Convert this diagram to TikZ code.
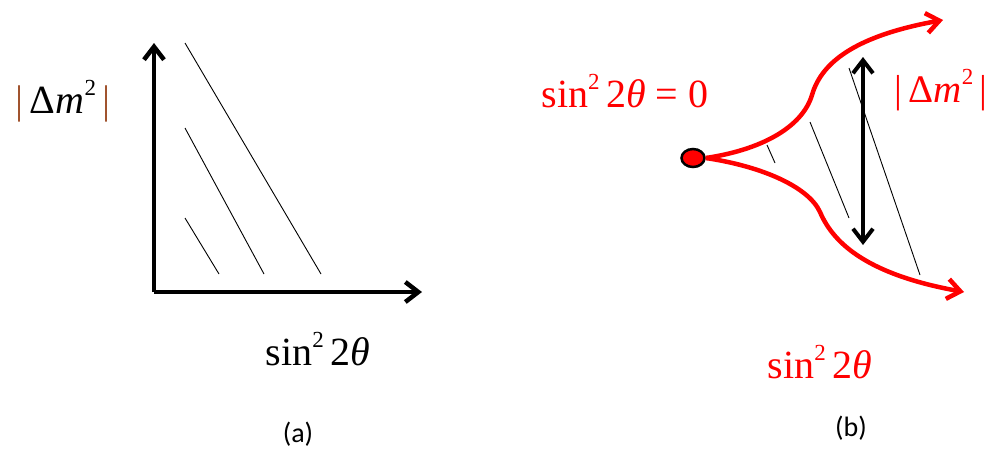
\documentclass[tikz,border=0pt]{standalone}
\usepackage{fontspec}
\setmainfont{Liberation Serif}
\newfontfamily\capfont{Carlito}
\definecolor{PlotRed}{HTML}{FF0000}
\definecolor{BarBrown}{HTML}{A0522D}
\usetikzlibrary{arrows.meta,shapes.geometric}
\newcommand{\sqr}{\raisebox{0.45em}{\fontsize{23}{23}\selectfont 2}}
\newcommand{\sinsq}{sin\sqr\,2\textit{θ}}
\newcommand{\dmsq}[1]{\textcolor{#1}{|}\,Δ\textit{m}\sqr\,\textcolor{#1}{|}}

\begin{document}
\begin{tikzpicture}[x=1pt,y=-1pt,
  every node/.style={font=\fontsize{40}{44}\selectfont,inner sep=0pt},
  axis/.style={line width=4.5pt,-{Straight Barb[length=13pt,width=20pt]}},
  curve/.style={PlotRed,line width=4.5pt,-{Straight Barb[length=13pt,width=20pt]}},
  hatch/.style={line width=0.9pt}]
  \useasboundingbox (0,0) rectangle (995,451);
  % (a) axes
  \coordinate (origin) at (154,292);
  \coordinate (ytip) at (154,43);
  \coordinate (xtip) at (422,292);
  \draw[axis] (origin) -- (ytip);
  \draw[axis] (origin) -- (xtip);
  \foreach \xa/\ya/\xb/\yb in {185/43/321/274,185/128/264/274,185/218/219/274}
    \draw[hatch] (\xa,\ya) -- (\xb,\yb);
  \node[anchor=base] (dmA) at (63,113) {\dmsq{BarBrown}};
  \node[anchor=base] (sinA) at (318,365) {\sinsq};
  \node[font=\capfont\fontsize{28}{30}\selectfont] (capA) at (298,434) {(a)};
  % (b) flow
  \node[ellipse,draw,fill=PlotRed,line width=2.5pt,minimum width=23pt,minimum height=18pt] (dot) at (693,158) {};
  \coordinate (upend) at (943,20);
  \coordinate (lowend) at (964,292);
  \draw[curve] (dot.east) .. controls (760,150) and (802,128) .. (812,95)
    .. controls (822,60) and (860,35) .. (upend);
  \draw[curve] (dot.east) .. controls (760,166) and (808,186) .. (820,212)
    .. controls (834,245) and (870,275) .. (lowend);
  \foreach \xa/\ya/\xb/\yb in {767/145/775/163,810/122/849/218,849/68/920/275}
    \draw[hatch] (\xa,\ya) -- (\xb,\yb);
  \coordinate (dmtop) at (863,57);
  \coordinate (dmbot) at (863,245);
  \draw[line width=4pt,{Straight Barb[length=13pt,width=20pt]}-{Straight Barb[length=13pt,width=20pt]}] (dmtop) -- (dmbot);
  \node[anchor=base,PlotRed] (zeroB) at (625,107) {\sinsq\ =\ 0};
  \node[anchor=base,PlotRed,font=\fontsize{39}{42}\selectfont] (dmB) at (941,102) {\dmsq{PlotRed}};
  \node[anchor=base,PlotRed] (sinB) at (820,378) {\sinsq};
  \node[font=\capfont\fontsize{28}{30}\selectfont] (capB) at (851,428) {(b)};
\end{tikzpicture}
\end{document}
